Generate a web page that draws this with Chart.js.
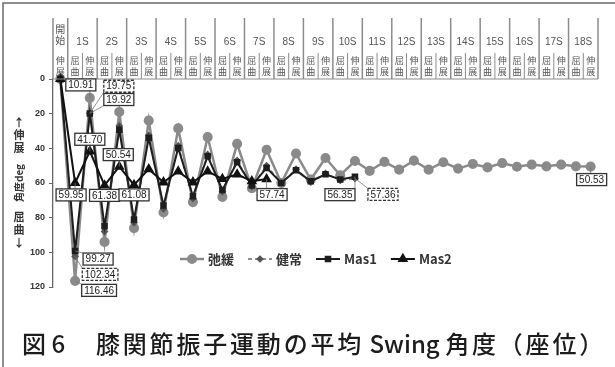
<!DOCTYPE html>
<html>
<head>
<meta charset="utf-8">
<script src="https://cdn.jsdelivr.net/npm/chart.js@4.4.0/dist/chart.umd.min.js"></script>
<style>
  html, body { margin: 0; padding: 0; background: #fff; }
  #wrap { width: 615px; height: 367px; position: relative; }
</style>
</head>
<body>
<div id="wrap"><canvas id="swingChart" width="615" height="367"></canvas></div>
<script>
// header texts
const startLabel = '開始';
const startPhase = '伸展';
const swings = ['1S', '2S', '3S', '4S', '5S', '6S', '7S', '8S', '9S', '10S',
                '11S', '12S', '13S', '14S', '15S', '16S', '17S', '18S'];
const phases = ['屈曲', '伸展'];
const yTicks = [0, 20, 40, 60, 80, 100, 120];

// knee angle (deg), one value per phase: start, 1S flex, 1S ext, 2S flex ...
const relaxed = [0, 116.46, 10.91, 94, 19, 86, 24, 77, 28.5, 71, 33.5, 68, 37.4, 63, 40.8,
                 60, 43, 58, 45.6, 55.5, 47.3, 53, 47.8, 52.3, 47.1, 52.3, 48, 51.7, 49,
                 51, 48.5, 50.6, 49.4, 50.4, 49.4, 50.4, 50.53];
const healthy = [0, 102.34, 19.75, 88, 27, 83, 32.5, 75, 38.5, 69, 43.5, 65, 47, 62, 50,
                 60, 52, 59.5, 54.5, 58.5, 57.36];
const mas1 = [0, 99.27, 19.92, 85, 29.3, 81, 34, 73, 39.8, 67.6, 44.6, 64, 48, 61.5, 51.3,
              60, 52.7, 59, 55, 58, 56.35];
const mas2 = [0, 59.95, 41.70, 61.38, 50.54, 61.08, 52, 59.6, 53.3, 59.6, 53.3, 57.6, 55, 59, 57.74];

const categories = [startLabel];
swings.forEach(s => phases.forEach(p => categories.push(s + p)));

// value boxes: dataset index, point index, offset of box centre from the point
const callouts = [
  { set: 0, at: 2, dx: -9, dy: -13 },
  { set: 1, at: 2, dx: 29, dy: -27 },
  { set: 2, at: 2, dx: 29, dy: -14 },
  { set: 3, at: 2, dx: 0, dy: -12 },
  { set: 3, at: 4, dx: -1, dy: -12 },
  { set: 3, at: 1, dx: -4, dy: 12 },
  { set: 3, at: 3, dx: 0, dy: 10 },
  { set: 3, at: 5, dx: 0, dy: 10 },
  { set: 2, at: 1, dx: 23, dy: 8 },
  { set: 1, at: 1, dx: 25, dy: 18 },
  { set: 0, at: 1, dx: 24, dy: 9.5 },
  { set: 3, at: 14, dx: 5.5, dy: 15.5 },
  { set: 2, at: 20, dx: -15, dy: 18 },
  { set: 1, at: 20, dx: 28, dy: 16 },
  { set: 0, at: 36, dx: 1, dy: 13 }
];

const captionHead = '図 6';
const captionRuns = [['膝関節振子運動の平均', true], [' Swing ', false], ['角度（座位）', true]];

const CJK = '"Noto Sans CJK JP", "Liberation Sans", sans-serif';

const decor = {
  id: 'decor',
  afterDraw(chart) {
    const ctx = chart.ctx;
    const area = chart.chartArea;
    const x = chart.scales.x;
    const step = x.getPixelForValue(1) - x.getPixelForValue(0);
    ctx.save();

    // frame
    ctx.strokeStyle = '#6a6a6a';
    ctx.lineWidth = 1.5;
    ctx.beginPath();
    ctx.moveTo(3, 367); ctx.lineTo(3, 3); ctx.lineTo(615, 3);
    ctx.stroke();

    // header table
    const hTop = 18, hMid = 53, hBot = area.top;
    ctx.strokeStyle = '#8c8c8c';
    ctx.lineWidth = 1.5;
    const bounds = [x.getPixelForValue(0) - step / 2, x.getPixelForValue(0) + step / 2];
    swings.forEach((s, k) => bounds.push(x.getPixelForValue(2 * k + 2) + step / 2));
    bounds.forEach(b => {
      ctx.beginPath(); ctx.moveTo(b, hTop); ctx.lineTo(b, hBot); ctx.stroke();
    });
    ctx.lineWidth = 1;
    swings.forEach((s, k) => {
      const b = x.getPixelForValue(2 * k + 1) + step / 2;
      ctx.beginPath(); ctx.moveTo(b, hMid); ctx.lineTo(b, hBot); ctx.stroke();
    });
    ctx.beginPath(); ctx.moveTo(bounds[0], hBot); ctx.lineTo(area.right, hBot); ctx.stroke();

    ctx.fillStyle = '#555';
    ctx.textAlign = 'center';
    ctx.textBaseline = 'middle';
    ctx.font = '10px ' + CJK;
    const x0 = x.getPixelForValue(0);
    ctx.fillText(startLabel[0], x0, 29);
    ctx.fillText(startLabel[1], x0, 40);
    ctx.font = '10px "Liberation Sans", Arial, sans-serif';
    swings.forEach((s, k) => {
      ctx.fillText(s, (bounds[k + 1] + bounds[k + 2]) / 2, 42);
    });
    ctx.font = '9px ' + CJK;
    categories.forEach((c, i) => {
      const ph = i === 0 ? startPhase : phases[(i - 1) % 2];
      const px = x.getPixelForValue(i);
      ctx.fillText(ph[0], px, 61);
      ctx.fillText(ph[1], px, 72);
    });

    // y axis title
    ctx.fillStyle = '#333';
    ctx.font = 'bold 11px ' + CJK;
    [['↑', 123], ['伸', 135], ['展', 148], ['屈', 217], ['曲', 230], ['↓', 243]].forEach(([t, y]) => {
      ctx.fillText(t, 19, y);
    });
    ctx.save();
    ctx.translate(19, 183);
    ctx.rotate(-Math.PI / 2);
    ctx.font = 'bold 10px ' + CJK;
    ctx.fillText('角度deg', 0, 0);
    ctx.restore();

    // legend
    let lx = 180;
    const ly = 259;
    chart.data.datasets.forEach(ds => {
      ctx.strokeStyle = ds.borderColor;
      ctx.lineWidth = ds.borderWidth;
      ctx.setLineDash(ds.borderDash || []);
      ctx.beginPath(); ctx.moveTo(lx, ly); ctx.lineTo(lx + 24, ly); ctx.stroke();
      ctx.setLineDash([]);
      ctx.fillStyle = ds.pointBackgroundColor;
      ctx.strokeStyle = ds.pointBorderColor;
      Chart.helpers.drawPoint(ctx, {
        pointStyle: ds.pointStyle, radius: ds.pointRadius, borderWidth: 1
      }, lx + 12, ly);
      ctx.fillStyle = '#333';
      ctx.font = 'bold 13px ' + CJK;
      ctx.textAlign = 'left';
      ctx.fillText(ds.label, lx + 28, ly);
      lx += 28 + ctx.measureText(ds.label).width + 14;
    });

    // value boxes
    ctx.font = '10px "Liberation Sans", Arial, sans-serif';
    ctx.textAlign = 'center';
    callouts.forEach(c => {
      const ds = chart.data.datasets[c.set];
      const pt = chart.getDatasetMeta(c.set).data[c.at];
      const txt = ds.data[c.at].toFixed(2);
      const w = ctx.measureText(txt).width + 5, h = 12;
      const cx = pt.x + c.dx, cy = pt.y + c.dy;
      const bx = cx - w / 2, by = cy - h / 2;
      const ax = Math.min(Math.max(pt.x, bx), bx + w);
      const ay = Math.min(Math.max(pt.y, by), by + h);
      if (Math.hypot(ax - pt.x, ay - pt.y) > 4) {
        ctx.strokeStyle = '#777';
        ctx.lineWidth = 0.8;
        ctx.setLineDash([]);
        ctx.beginPath(); ctx.moveTo(ax, ay); ctx.lineTo(pt.x, pt.y); ctx.stroke();
      }
      ctx.fillStyle = '#fff';
      ctx.fillRect(bx, by, w, h);
      ctx.strokeStyle = '#333';
      ctx.lineWidth = 1.3;
      ctx.setLineDash(c.set === 1 ? [3, 1.5] : []);
      ctx.strokeRect(bx, by, w, h);
      ctx.setLineDash([]);
      ctx.fillStyle = '#222';
      ctx.fillText(txt, cx, cy + 0.5);
    });

    // caption: CJK runs tracked out so the line ends near the right edge
    ctx.fillStyle = '#1c1c1c';
    ctx.textAlign = 'left';
    ctx.font = '500 24px ' + CJK;
    ctx.fillText(captionHead, 22, 344);
    const capLeft = 96, capRight = 606;
    let natural = 0, tracked = 0;
    captionRuns.forEach(([t, cjk]) => {
      natural += ctx.measureText(t).width;
      if (cjk) tracked += t.length;
    });
    const track = Math.max(0, (capRight - capLeft - natural) / tracked);
    let cx = capLeft;
    captionRuns.forEach(([t, cjk]) => {
      if (!cjk) { ctx.fillText(t, cx, 344); cx += ctx.measureText(t).width; return; }
      for (const ch of t) {
        ctx.fillText(ch, cx, 344);
        cx += ctx.measureText(ch).width + track;
      }
    });
    ctx.restore();
  }
};

new Chart(document.getElementById('swingChart').getContext('2d'), {
  type: 'line',
  data: {
    labels: categories,
    datasets: [
      {
        label: '弛緩', data: relaxed, order: 4,
        borderColor: '#8a8a8a', borderWidth: 2.5,
        pointStyle: 'circle', pointRadius: 3.8,
        pointBackgroundColor: '#8a8a8a', pointBorderColor: '#8a8a8a'
      },
      {
        label: '健常', data: healthy, order: 3,
        borderColor: '#6e6e6e', borderWidth: 1.5, borderDash: [4, 3],
        pointStyle: 'rectRot', pointRadius: 2.8,
        pointBackgroundColor: '#555', pointBorderColor: '#555'
      },
      {
        label: 'Mas1', data: mas1, order: 2,
        borderColor: '#1e1e1e', borderWidth: 2,
        pointStyle: 'rect', pointRadius: 3.2,
        pointBackgroundColor: '#1e1e1e', pointBorderColor: '#1e1e1e'
      },
      {
        label: 'Mas2', data: mas2, order: 1,
        borderColor: '#111', borderWidth: 2,
        pointStyle: 'triangle', pointRadius: 4.2,
        pointBackgroundColor: '#111', pointBorderColor: '#111'
      }
    ]
  },
  options: {
    responsive: false,
    animation: false,
    devicePixelRatio: 1,
    layout: { padding: { left: 0, right: 17, top: 79, bottom: 80 } },
    elements: { line: { tension: 0 } },
    datasets: { line: { clip: false, spanGaps: false } },
    plugins: {
      legend: { display: false },
      tooltip: { enabled: false }
    },
    scales: {
      x: { type: 'category', offset: true, display: false },
      y: {
        reverse: true,
        min: yTicks[0],
        max: yTicks[yTicks.length - 1],
        afterFit: s => { s.width = 53; },
        afterBuildTicks: s => { s.ticks = yTicks.map(v => ({ value: v })); },
        ticks: {
          color: '#333',
          padding: 4,
          font: { family: '"Liberation Sans", Arial, sans-serif', size: 9, weight: 'bold' }
        },
        grid: { drawOnChartArea: false, tickLength: 4, color: '#666' },
        border: { color: '#666', width: 1.3 }
      }
    }
  },
  plugins: [decor]
});
</script>
</body>
</html>
